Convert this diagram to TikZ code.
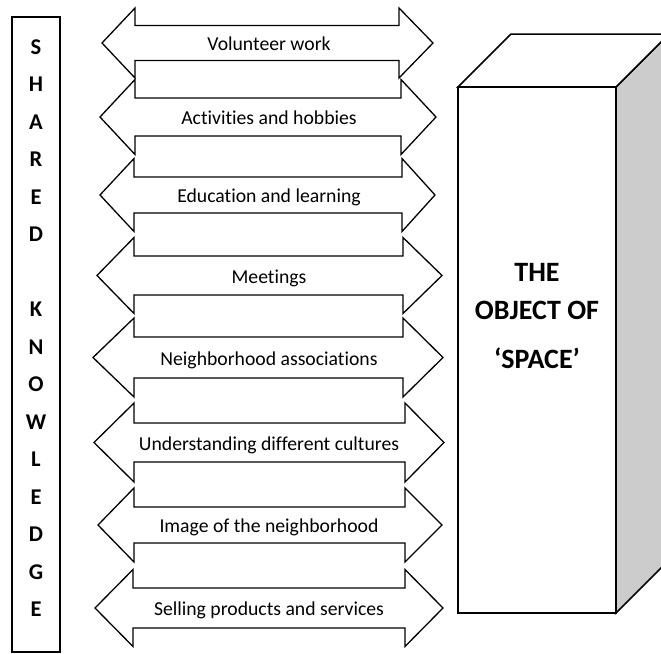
\documentclass[tikz,border=0pt]{standalone}
\usepackage{fontspec}
\setmainfont{Carlito}[Ligatures=NoCommon]
\begin{document}
\begin{tikzpicture}[x=1pt,y=-1pt,line join=miter]
\tikzset{
  lbl/.style={font=\fontsize{19.7}{22}\selectfont,inner sep=0pt,anchor=base},
  letter/.style={font=\fontsize{22.5}{24}\selectfont\bfseries,inner sep=0pt,anchor=base},
  objtext/.style={font=\fontsize{28}{32}\selectfont\bfseries,inner sep=0pt,anchor=base}
}
\clip(0,0)rectangle(661,653);
% shared knowledge column
\draw[line width=1.3pt](12,17)rectangle(60,652);
\foreach \ch/\yy [count=\i] in {S/47,H/84.5,A/122,R/159.5,E/197,D/234.5,
  K/309.5,N/347,O/384.5,W/422,L/459.5,E/497,D/534.5,G/572,E/609.5}
  \node[letter](k\i)at(36,\yy+7.2){\ch};
% double arrows
\begin{scope}[line width=1.3pt]
\foreach \c/\s/\h/\l/\a/\b/\r/\txt [count=\i] in {
  43/17.5/35/102/135/399/433/Volunteer work,
  117/19/37.5/100/135/401/436/Activities and hobbies,
  195/18/36.5/100/134/402/435/Education and learning,
  275.5/19.5/38/97/134/403/442/Meetings,
  357.5/20.5/39.5/93/134/403/443/Neighborhood associations,
  442.5/19.5/39.5/94/134/405/444/Understanding different cultures,
  525/18/37/98/134/405/442/Image of the neighborhood,
  608/20/38.5/95/133/405/443/Selling products and services}
{
\draw[fill=white](\l,\c)--(\a,\c-\h)--(\a,\c-\s)--(\b,\c-\s)--(\b,\c-\h)--(\r,\c)
  --(\b,\c+\h)--(\b,\c+\s)--(\a,\c+\s)--(\a,\c+\h)--cycle;
\node[lbl](t\i)at(269,\c+7.5){\txt};
}
\end{scope}
% the object
\begin{scope}[line width=1.5pt]
\def\d{53}
\draw[fill=black!20](616,87)--++(\d,-\d)--++(0,526)--(616,613)--cycle;
\draw[fill=white](458,87)--++(\d,-\d)--++(158,0)--(616,87)--cycle;
\draw[fill=white](458,87)rectangle(616,613);
\end{scope}
\node[objtext](obj1)at(537,281){THE};
\node[objtext](obj2)at(537,319){OBJECT OF};
\node[objtext](obj3)at(537,368){‘SPACE’};
\end{tikzpicture}
\end{document}
